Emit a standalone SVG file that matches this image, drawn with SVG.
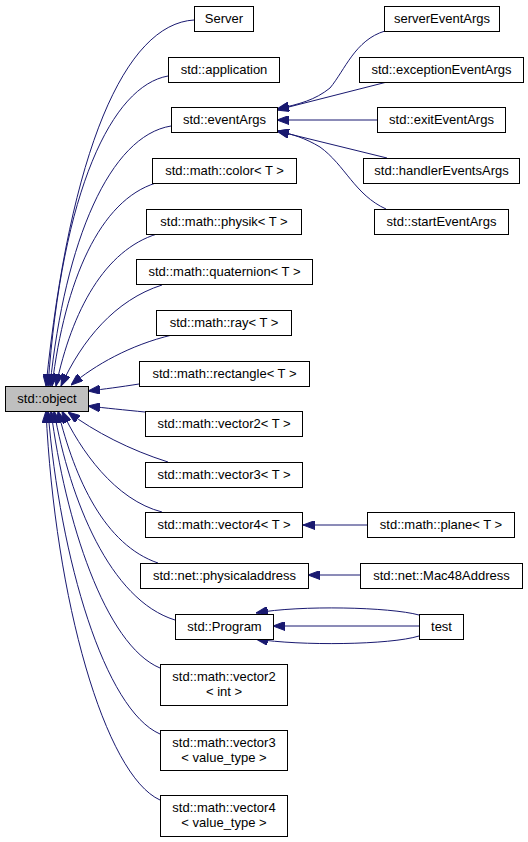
<svg xmlns="http://www.w3.org/2000/svg" width="528" height="842" viewBox="0 0 528 842">
<defs>
<marker id="ah" viewBox="0 0 12 9" refX="12" refY="4.5" markerWidth="12" markerHeight="9" markerUnits="userSpaceOnUse" orient="auto">
<path d="M0,0 L12,4.5 L0,9 z" fill="#191970" stroke="#191970" stroke-width="1"/>
</marker>
<style>
.n rect{fill:#ffffff;stroke:#000000;stroke-width:1}
.n.g rect{fill:#bfbfbf}
.n text{font-family:"Liberation Sans",Arial,sans-serif;font-size:13px;fill:#000000;text-anchor:middle}
#edges path{fill:none;stroke:#191970;stroke-width:1;marker-end:url(#ah)}
</style>
</defs>
<rect width="528" height="842" fill="#ffffff"/>
<g id="edges">
<path d="M194,20 C125,24 70,150 46,386"/>
<path d="M168,76 C112,86 62,190 48,386"/>
<path d="M171,126 C110,136 65,240 50,386"/>
<path d="M156,183 C100,200 65,280 52,386"/>
<path d="M157,234 C105,250 72,310 56,386"/>
<path d="M162,285 C115,300 82,340 61,386"/>
<path d="M172,335 C130,345 95,365 71,385"/>
<path d="M139,384 C120,387 105,389 88,391"/>
<path d="M145,412 C125,410 105,408 88,406"/>
<path d="M168,462 C130,450 95,432 68,412"/>
<path d="M162,512 C115,500 80,450 62,411"/>
<path d="M158,563 C105,545 75,480 58,411"/>
<path d="M175,620 C110,600 70,500 54,411"/>
<path d="M160,668 C105,645 65,520 51,411"/>
<path d="M160,734 C105,710 60,560 48,411"/>
<path d="M160,800 C105,775 55,600 46,411"/>
<path d="M385,31 C355,40 345,70 330,88 C315,100 300,104 277,109"/>
<path d="M387,82 L277,110"/>
<path d="M377,120 L277,120"/>
<path d="M387,158 L277,131"/>
<path d="M386,209 C355,195 345,165 320,147 C305,138 292,134 277,131"/>
<path d="M367,525 L303,525"/>
<path d="M360,575 L308,575"/>
<path d="M419,615 C390,607 300,605 256,613"/>
<path d="M419,626 L273,626"/>
<path d="M419,636 C390,645 300,646 256,639"/>
</g>
<g id="n_server" class="n"><rect x="194.5" y="6.5" width="59" height="25"/><text x="224" y="23">Server</text></g>
<g id="n_application" class="n"><rect x="168.5" y="57.5" width="111" height="25"/><text x="224" y="74">std::application</text></g>
<g id="n_eventArgs" class="n"><rect x="171.5" y="107.5" width="106" height="25"/><text x="224.5" y="124">std::eventArgs</text></g>
<g id="n_serverEventArgs" class="n"><rect x="384.5" y="6.5" width="115" height="25"/><text x="442" y="23">serverEventArgs</text></g>
<g id="n_exceptionEventArgs" class="n"><rect x="359.5" y="57.5" width="164" height="25"/><text x="441.5" y="74">std::exceptionEventArgs</text></g>
<g id="n_exitEventArgs" class="n"><rect x="377.5" y="107.5" width="128" height="25"/><text x="441.5" y="124">std::exitEventArgs</text></g>
<g id="n_handlerEventsArgs" class="n"><rect x="363.5" y="158.5" width="156" height="25"/><text x="441.5" y="175">std::handlerEventsArgs</text></g>
<g id="n_startEventArgs" class="n"><rect x="374.5" y="209.5" width="134" height="25"/><text x="441.5" y="226">std::startEventArgs</text></g>
<g id="n_color" class="n"><rect x="152.5" y="158.5" width="144" height="25"/><text x="224.5" y="175">std::math::color&lt; T &gt;</text></g>
<g id="n_physik" class="n"><rect x="146.5" y="209.5" width="155" height="25"/><text x="224" y="226">std::math::physik&lt; T &gt;</text></g>
<g id="n_quaternion" class="n"><rect x="136.5" y="259.5" width="176" height="25"/><text x="224.5" y="276">std::math::quaternion&lt; T &gt;</text></g>
<g id="n_ray" class="n"><rect x="156.5" y="310.5" width="135" height="25"/><text x="224" y="327">std::math::ray&lt; T &gt;</text></g>
<g id="n_rectangle" class="n"><rect x="139.5" y="361.5" width="170" height="25"/><text x="224.5" y="378">std::math::rectangle&lt; T &gt;</text></g>
<g id="n_object" class="n g"><rect x="5.5" y="386.5" width="83" height="25"/><text x="47" y="403">std::object</text></g>
<g id="n_vector2T" class="n"><rect x="145.5" y="411.5" width="157" height="25"/><text x="224" y="428">std::math::vector2&lt; T &gt;</text></g>
<g id="n_vector3T" class="n"><rect x="145.5" y="462.5" width="157" height="25"/><text x="224" y="479">std::math::vector3&lt; T &gt;</text></g>
<g id="n_vector4T" class="n"><rect x="145.5" y="512.5" width="157" height="25"/><text x="224" y="529">std::math::vector4&lt; T &gt;</text></g>
<g id="n_plane" class="n"><rect x="367.5" y="512.5" width="147" height="25"/><text x="441" y="529">std::math::plane&lt; T &gt;</text></g>
<g id="n_physicaladdress" class="n"><rect x="140.5" y="563.5" width="168" height="25"/><text x="224.5" y="580">std::net::physicaladdress</text></g>
<g id="n_mac48" class="n"><rect x="360.5" y="563.5" width="162" height="25"/><text x="441.5" y="580">std::net::Mac48Address</text></g>
<g id="n_program" class="n"><rect x="175.5" y="614.5" width="98" height="25"/><text x="224.5" y="631">std::Program</text></g>
<g id="n_test" class="n"><rect x="419.5" y="614.5" width="44" height="25"/><text x="441.5" y="631">test</text></g>
<g id="n_vector2int" class="n"><rect x="160.5" y="664.5" width="127" height="41"/><text x="224" y="681">std::math::vector2</text><text x="224" y="696">&lt; int &gt;</text></g>
<g id="n_vector3vt" class="n"><rect x="160.5" y="730.5" width="127" height="40"/><text x="224" y="747">std::math::vector3</text><text x="224" y="762">&lt; value_type &gt;</text></g>
<g id="n_vector4vt" class="n"><rect x="160.5" y="795.5" width="127" height="41"/><text x="224" y="812">std::math::vector4</text><text x="224" y="827">&lt; value_type &gt;</text></g>
</svg>
